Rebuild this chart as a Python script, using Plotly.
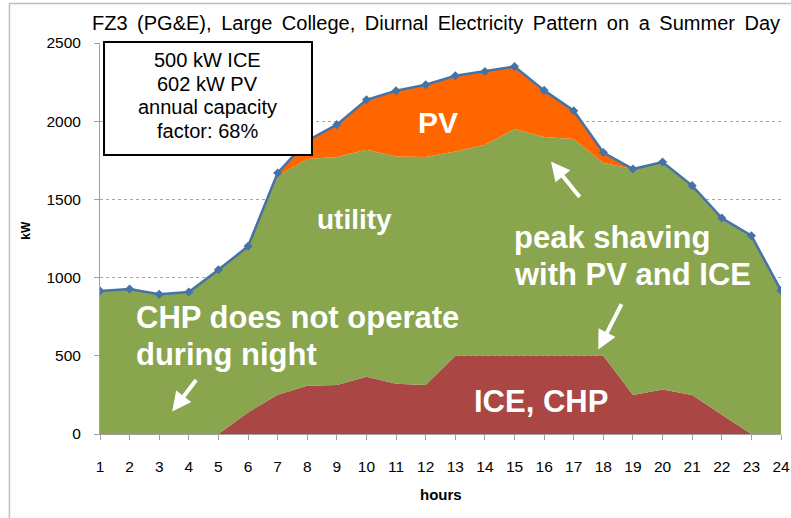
import plotly.graph_objects as go

# Hourly load breakdown (kW) for a large college on a summer day
hours = list(range(1, 25))
ice_chp = [0, 0, 0, 0, 0, 138, 251, 309, 313, 366, 322, 313,
           500, 500, 500, 500, 500, 500, 249, 285, 249, 123, 0, 0]
utility = [915, 927, 893, 908, 1050, 1062, 1399, 1449, 1458, 1452, 1453, 1458,
           1307, 1350, 1450, 1399, 1386, 1233, 1445, 1454, 1339, 1258, 1268, 918]
pv = [0, 0, 0, 0, 0, 0, 19, 117, 207, 319, 420, 462,
      483, 468, 400, 298, 181, 67, 0, 0, 0, 0, 0, 0]
y_ticks = [0, 500, 1000, 1500, 2000, 2500]

# total building load = sum of the stacked supply layers
load = [a + b + c for a, b, c in zip(ice_chp, utility, pv)]

RED = "#AA4643"
GREEN = "#89A54E"
ORANGE = "#FF6600"
BLUE = "#4572A7"
FONT = "Liberation Sans, Arial, sans-serif"

fig = go.Figure()
fig.add_trace(go.Scatter(x=hours, y=ice_chp, stackgroup="s", mode="none",
                         fillcolor=RED, name="ICE, CHP"))
fig.add_trace(go.Scatter(x=hours, y=utility, stackgroup="s", mode="none",
                         fillcolor=GREEN, name="utility"))
fig.add_trace(go.Scatter(x=hours, y=pv, stackgroup="s", mode="none",
                         fillcolor=ORANGE, name="PV"))
fig.add_trace(go.Scatter(x=hours, y=load, mode="lines+markers",
                         line=dict(color=BLUE, width=2.5),
                         marker=dict(symbol="diamond", size=7, color=BLUE),
                         name="load"))

# title words set with slightly wider word gaps
title_words = "FZ3 (PG&E), Large College, Diurnal Electricity Pattern on a Summer Day".split(" ")
title_text = " \u2009".join(title_words)


def white_label(text, x, y, size, xanchor="center"):
    return dict(text="<b>" + text + "</b>", x=x, y=y, xanchor=xanchor,
                showarrow=False, font=dict(size=size, color="white", family=FONT))


def arrow(x, y, ax, ay):
    return dict(text="", x=x, y=y, ax=ax, ay=ay, showarrow=True,
                arrowcolor="white", arrowwidth=4, arrowhead=2, arrowsize=0.95)


info_lines = ["500 kW ICE", "602 kW PV", "annual capacity", "factor: 68%"]
info_y = [0.957, 0.896, 0.836, 0.776]

annotations = [
    dict(text=title_text, xref="paper", yref="paper", x=0.494, y=1.05,
         xanchor="center", yanchor="middle", showarrow=False,
         font=dict(size=20, color="black", family=FONT)),
    dict(text="<b>kW</b>", xref="paper", yref="paper", x=-0.109, y=0.522,
         textangle=-90, showarrow=False, xanchor="center", yanchor="middle",
         font=dict(size=12, color="black", family=FONT)),
    dict(text="<b>hours</b>", xref="paper", yref="paper", x=0.5, y=-0.156,
         showarrow=False, xanchor="center", yanchor="middle",
         font=dict(size=15, color="black", family=FONT)),
    white_label("PV", 12.43, 1990, 30),
    white_label("utility", 9.6, 1370, 28),
    white_label("peak shaving", 14.9, 1254, 31, "left"),
    white_label("with PV and ICE", 14.9, 1018, 31, "left"),
    white_label("CHP does not operate", 2.15, 747, 31, "left"),
    white_label("during night", 2.15, 507, 31, "left"),
    white_label("ICE, CHP", 15.91, 206, 31),
    arrow(16.23, 1743, 30, 37),
    arrow(17.83, 540, 24, -47),
    arrow(3.44, 144, 25, -33),
]
for line, yy in zip(info_lines, info_y):
    annotations.append(dict(text=line, xref="paper", yref="paper", x=0.158, y=yy,
                            xanchor="center", yanchor="middle", showarrow=False,
                            font=dict(size=20, color="black", family=FONT)))

fig.update_layout(
    width=791, height=518,
    margin=dict(l=100, r=10, t=43, b=84),
    paper_bgcolor="white", plot_bgcolor="white",
    showlegend=False,
    font=dict(family=FONT, size=15.5, color="black"),
    annotations=annotations,
    shapes=[
        dict(type="rect", xref="paper", yref="paper",
             x0=-0.133, x1=1.03, y0=-0.25, y1=1.101,
             line=dict(color="#BFBFBF", width=1.5), layer="below"),
        dict(type="rect", xref="paper", yref="paper",
             x0=0.0059, x1=0.3113, y0=0.7136, y1=1.0026,
             line=dict(color="black", width=2), fillcolor="white", layer="above"),
    ],
)
fig.update_xaxes(range=[1, 24], tickvals=hours, ticktext=[str(h) for h in hours],
                 automargin=False,
                 showgrid=False, showline=True, linecolor="#A0A0A0", linewidth=1,
                 ticks="outside", ticklen=5, tickcolor="#A0A0A0",
                 ticklabelstandoff=13, tickfont=dict(size=15.5))
fig.update_yaxes(range=[0, 2500], tickvals=y_ticks, automargin=False,
                 showgrid=True, gridcolor="#A6A6A6", griddash="dot", gridwidth=1,
                 showline=True, linecolor="#A0A0A0", linewidth=1,
                 ticks="outside", ticklen=5, tickcolor="#A0A0A0",
                 ticklabelstandoff=10, tickfont=dict(size=15.5), zeroline=False)

fig.write_html("out.html")
